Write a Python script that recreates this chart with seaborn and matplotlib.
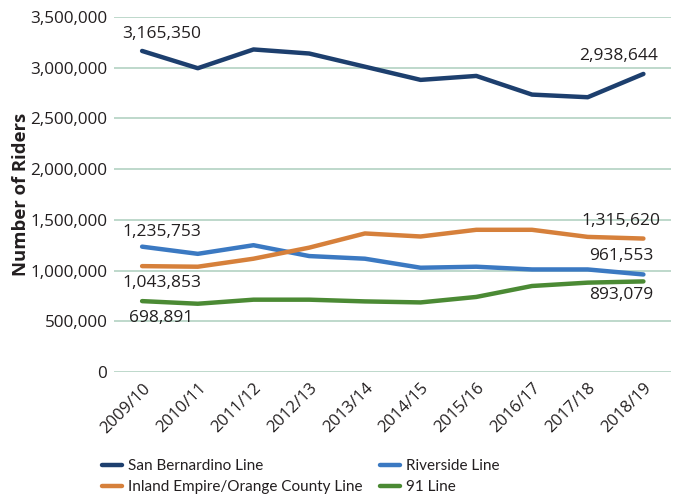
import matplotlib
matplotlib.use("Agg")
import matplotlib.pyplot as plt
import matplotlib.transforms as mtransforms
from matplotlib.lines import Line2D
import seaborn as sns
import pandas as pd

years = ["2009/10", "2010/11", "2011/12", "2012/13", "2013/14",
         "2014/15", "2015/16", "2016/17", "2017/18", "2018/19"]
san_bernardino = [3165350, 2995000, 3180000, 3140000, 3010000,
                  2880000, 2919000, 2735000, 2709000, 2938644]
riverside = [1235753, 1165000, 1250000, 1143000, 1117000,
             1028000, 1038000, 1011000, 1011000, 961553]
inland_empire = [1043853, 1038000, 1117000, 1226000, 1366000,
                 1336000, 1402000, 1402000, 1332000, 1315620]
line_91 = [698891, 673000, 713000, 713000, 696000,
           686000, 740000, 848000, 881000, 893079]

series_names = ["San Bernardino Line", "Riverside Line",
                "Inland Empire/Orange County Line", "91 Line"]
series_values = [san_bernardino, riverside, inland_empire, line_91]
colors = {"San Bernardino Line": "#1d3f6e",
          "Riverside Line": "#3b79c2",
          "Inland Empire/Orange County Line": "#d6803b",
          "91 Line": "#4b8a34"}

rows = []
for name, vals in zip(series_names, series_values):
    for i, (yr, v) in enumerate(zip(years, vals)):
        rows.append({"Year": yr, "idx": i, "Riders": v, "Line": name})
df = pd.DataFrame(rows)

sns.set_style("white")
plt.rcParams["font.family"] = ["Open Sans", "DejaVu Sans"]
TXT = "#231f20"

fig = plt.figure(figsize=(6.76, 5.0), dpi=100)
ax = fig.add_axes([0.169, 0.256, 0.824, 0.710])

sns.lineplot(data=df, x="idx", y="Riders", hue="Line", hue_order=series_names,
             palette=colors, linewidth=3.2, ax=ax, legend=False, sort=False)

ax.set_xlim(-0.5, 9.5)
ax.set_ylim(0, 3500000)
ax.set_yticks(range(0, 3500001, 500000))
ax.set_yticklabels([f"{v:,}" for v in range(0, 3500001, 500000)], fontsize=12.3, color=TXT)
ax.set_xticks(range(len(years)))
ax.set_xticklabels(years, fontsize=12, color=TXT, rotation=45,
                   ha="right", rotation_mode="anchor")
offset = mtransforms.ScaledTranslation(10/100, -3/100, fig.dpi_scale_trans)
for lab in ax.get_xticklabels():
    lab.set_transform(lab.get_transform() + offset)
ax.tick_params(axis="y", length=0, pad=5)
ax.tick_params(axis="x", length=0, pad=6)
ax.grid(axis="y", color="#b3d2c2", linewidth=1.2)
ax.set_axisbelow(True)
for s in ax.spines.values():
    s.set_visible(False)
ax.set_xlabel("")
ax.set_ylabel("Number of Riders", fontsize=13.3, fontweight="bold", color=TXT, labelpad=0)

# annotations
ann = [
    (0, san_bernardino[0], 20, 17),
    (9, san_bernardino[9], -25, 18),
    (0, riverside[0], 20, 15),
    (0, inland_empire[0], 20, -17),
    (0, line_91[0], 19, -17),
    (9, inland_empire[9], -22, 18),
    (9, riverside[9], -22, 18),
    (9, line_91[9], -22, -14),
]
for x, v, dx, dy in ann:
    ax.annotate(f"{v:,}", xy=(x, v), xytext=(dx, dy), textcoords="offset pixels",
                ha="center", va="center", fontsize=12.5, color=TXT)

handles = [Line2D([0], [0], color=colors[n], linewidth=3.2) for n in series_names]
order = [0, 2, 1, 3]
fig.legend([handles[i] for i in order], [series_names[i] for i in order],
           loc="center", bbox_to_anchor=(0.445, 0.047), ncol=2, frameon=False,
           prop={"family": ["Lato", "DejaVu Sans"], "size": 11},
           handlelength=1.35, handletextpad=0.4, columnspacing=1.1,
           labelspacing=0.45, labelcolor=TXT)

fig.savefig("out.png", dpi=100)
